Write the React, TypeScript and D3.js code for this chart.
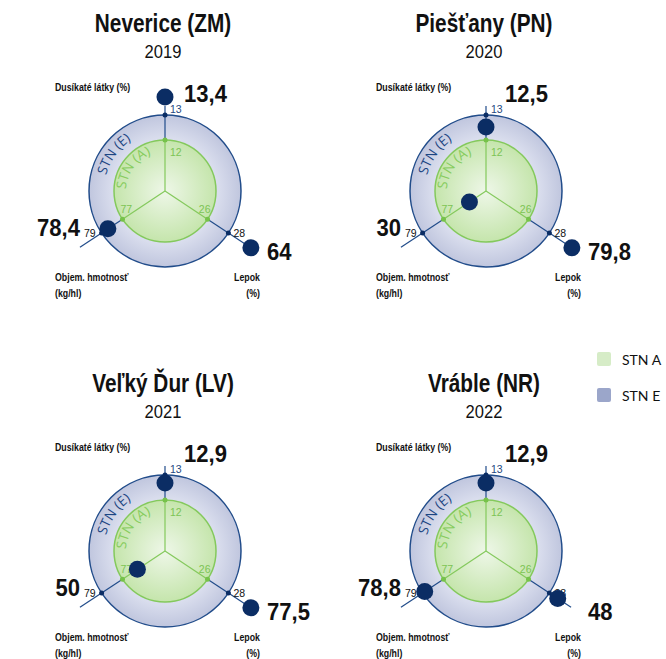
import React from "react";
import * as d3 from "d3";

const titles = ["Neverice (ZM)", "Piešťany (PN)", "Veľký Ďur (LV)", "Vráble (NR)"];
const years = ["2019", "2020", "2021", "2022"];
const dusik = [13.4, 12.5, 12.9, 12.9];
const lepok = [64, 79.8, 77.5, 48];
const objem = [78.4, 30, 50, 78.8];
const dusikLabels = ["13,4", "12,5", "12,9", "12,9"];
const lepokLabels = ["64", "79,8", "77,5", "48"];
const objemLabels = ["78,4", "30", "50", "78,8"];
const stnA = [12, 26, 77];
const stnE = [13, 28, 79];
const axisNames = ["Dusíkaté látky (%)", "Lepok", "Objem. hmotnosť"];
const legendItems = ["STN A", "STN E"];

const W = 666;
const H = 659;
const rA = 51;
const rE = 76;
const tilt = 33.5;

const sans = "'Liberation Sans', Arial, sans-serif";
const soft = "'Open Sans', Lato, sans-serif";
const navy = "#0b2d64";
const lineBlue = "#214c8a";
const green = "#84c95c";

// radial scales per axis (knots at ring values)
const rDusik = d3.scaleLinear().domain([0, stnA[0], 12.5, 12.9, 13.4]).range([0, rA, 64, 68, 94]).clamp(true);
const rLepok = d3.scaleLinear().domain([0, stnA[1], stnE[1], 48, 64]).range([0, rA, rE, 86, 103]).clamp(true);
const rObjem = d3.scaleLinear().domain([0, stnA[2], stnE[2]]).range([0, rA, rE]).clamp(true);

const angles = [-90, tilt, 180 - tilt].map((a) => (a * Math.PI) / 180);
const spokeLen = [85, 102, 102];

const col = d3.scalePoint<number>().domain([0, 1]).range([165, 486]);
const row = d3.scalePoint<number>().domain([0, 1]).range([191, 551]);

function pt(cx: number, cy: number, a: number, r: number): [number, number] {
  return [cx + r * Math.cos(a), cy + r * Math.sin(a)];
}

function arcPath(cx: number, cy: number, r: number, a0: number, a1: number) {
  const p = d3.path();
  p.arc(cx, cy, r, (a0 * Math.PI) / 180, (a1 * Math.PI) / 180, false);
  return p.toString();
}

function Narrow({ x, y, size, anchor, sx, children, bold }: any) {
  return (
    <text
      transform={`translate(${x},${y}) scale(${sx},1)`}
      textAnchor={anchor}
      fontFamily={sans}
      fontWeight={bold ? "bold" : "normal"}
      fontSize={size}
      fill="#111"
    >
      {children}
    </text>
  );
}

function Panel({ i }: { i: number }) {
  const cx = col(i % 2)!;
  const cy = row(Math.floor(i / 2))!;
  const vals = [rDusik(dusik[i]), rLepok(lepok[i]), rObjem(objem[i])];
  const idE = `arcE${i}`;
  const idA = `arcA${i}`;
  const small = { fontFamily: sans, fontSize: 10.5 };
  return (
    <g>
      <defs>
        <radialGradient id={`gE${i}`}>
          <stop offset="0%" stopColor="#eef0f7" />
          <stop offset="70%" stopColor="#d9dded" />
          <stop offset="100%" stopColor="#c0c6de" />
        </radialGradient>
        <radialGradient id={`gA${i}`}>
          <stop offset="0%" stopColor="#eef7e8" />
          <stop offset="100%" stopColor="#c5e5ac" />
        </radialGradient>
        <path id={idE} d={arcPath(cx, cy, 61, 194, 320)} />
        <path id={idA} d={arcPath(cx, cy, 39, 181, 330)} />
      </defs>
      <Narrow x={cx - 2} y={cy - 159} size={26} anchor="middle" sx={0.8} bold>
        {titles[i]}
      </Narrow>
      <Narrow x={cx - 2} y={cy - 133} size={18} anchor="middle" sx={0.92} bold={false}>
        {years[i]}
      </Narrow>
      <circle cx={cx} cy={cy} r={rE} fill={`url(#gE${i})`} stroke={lineBlue} strokeWidth={1.5} />
      <circle cx={cx} cy={cy} r={rA} fill={`url(#gA${i})`} stroke={green} strokeWidth={1.5} />
      <text fontFamily={soft} fontSize={13.5} fill="#1d4683">
        <textPath href={`#${idE}`} startOffset={1}>STN (E)</textPath>
      </text>
      <text fontFamily={soft} fontSize={13.5} fill="#86cc5e">
        <textPath href={`#${idA}`} startOffset={1}>STN (A)</textPath>
      </text>
      {angles.map((a, k) => {
        const [x1, y1] = pt(cx, cy, a, rA);
        const [x2, y2] = pt(cx, cy, a, spokeLen[k]);
        const [xe, ye] = pt(cx, cy, a, rE);
        return (
          <g key={k}>
            <line x1={cx} y1={cy} x2={x1} y2={y1} stroke={green} strokeWidth={1.2} />
            <line x1={x1} y1={y1} x2={x2} y2={y2} stroke={lineBlue} strokeWidth={1.2} />
            <circle cx={x1} cy={y1} r={2.5} fill="#76c24a" />
            <circle cx={xe} cy={ye} r={2.5} fill={navy} />
          </g>
        );
      })}
      {/* ring value labels */}
      <text x={cx + 5} y={cy - rE - 2} {...small} fill="#24497f">{stnE[0]}</text>
      <text x={cx + 5} y={cy - rA + 16} {...small} fill="#7cc454">{stnA[0]}</text>
      <text x={pt(cx, cy, angles[1], rA)[0] + 3} y={pt(cx, cy, angles[1], rA)[1] - 6} textAnchor="end" {...small} fill="#7cc454">{stnA[1]}</text>
      <text x={pt(cx, cy, angles[2], rA)[0] - 2} y={pt(cx, cy, angles[2], rA)[1] - 6} {...small} fill="#7cc454">{stnA[2]}</text>
      <text x={pt(cx, cy, angles[1], rE)[0] + 5} y={pt(cx, cy, angles[1], rE)[1] + 4} {...small} fill="#111">{stnE[1]}</text>
      <text x={pt(cx, cy, angles[2], rE)[0] - 6} y={pt(cx, cy, angles[2], rE)[1] + 4} textAnchor="end" {...small} fill="#111">{stnE[2]}</text>
      {/* data dots */}
      {vals.map((r, k) => {
        const [x, y] = pt(cx, cy, angles[k], r);
        return <circle key={k} cx={x} cy={y} r={8.5} fill={navy} />;
      })}
      {/* value labels */}
      <Narrow x={cx + 19} y={cy - 89} size={24} sx={0.92} anchor="start" bold>{dusikLabels[i]}</Narrow>
      <Narrow x={cx + 102} y={cy + 69} size={24} sx={0.92} anchor="start" bold>{lepokLabels[i]}</Narrow>
      <Narrow x={cx - 85} y={cy + 45} size={24} sx={0.92} anchor="end" bold>{objemLabels[i]}</Narrow>
      {/* axis names */}
      <Narrow x={cx - 110} y={cy - 100} size={10} sx={0.88} anchor="start" bold>{axisNames[0]}</Narrow>
      <Narrow x={cx - 110} y={cy + 90} size={10} sx={0.88} anchor="start" bold>{axisNames[2]}</Narrow>
      <Narrow x={cx - 110} y={cy + 106} size={10} sx={0.88} anchor="start" bold>(kg/hl)</Narrow>
      <Narrow x={cx + 95} y={cy + 90} size={10} sx={0.88} anchor="end" bold>{axisNames[1]}</Narrow>
      <Narrow x={cx + 95} y={cy + 106} size={10} sx={0.88} anchor="end" bold>(%)</Narrow>
    </g>
  );
}

export default function App() {
  const legendY = d3.scalePoint<number>().domain([0, 1]).range([352, 388]);
  const legendColors = ["#d6ecc7", "#9ba6ca"];
  return (
    <svg width={W} height={H} style={{ position: "absolute", left: 0, top: 0, background: "#fff" }}>
      {titles.map((_, i) => (
        <Panel key={i} i={i} />
      ))}
      {legendItems.map((t, k) => (
        <g key={t}>
          <rect x={597} y={legendY(k)!} width={14} height={14} rx={2} fill={legendColors[k]} />
          <text x={622} y={legendY(k)! + 13} fontFamily="Lato, 'Open Sans', sans-serif" fontSize={14} fill="#111">{t}</text>
        </g>
      ))}
    </svg>
  );
}
